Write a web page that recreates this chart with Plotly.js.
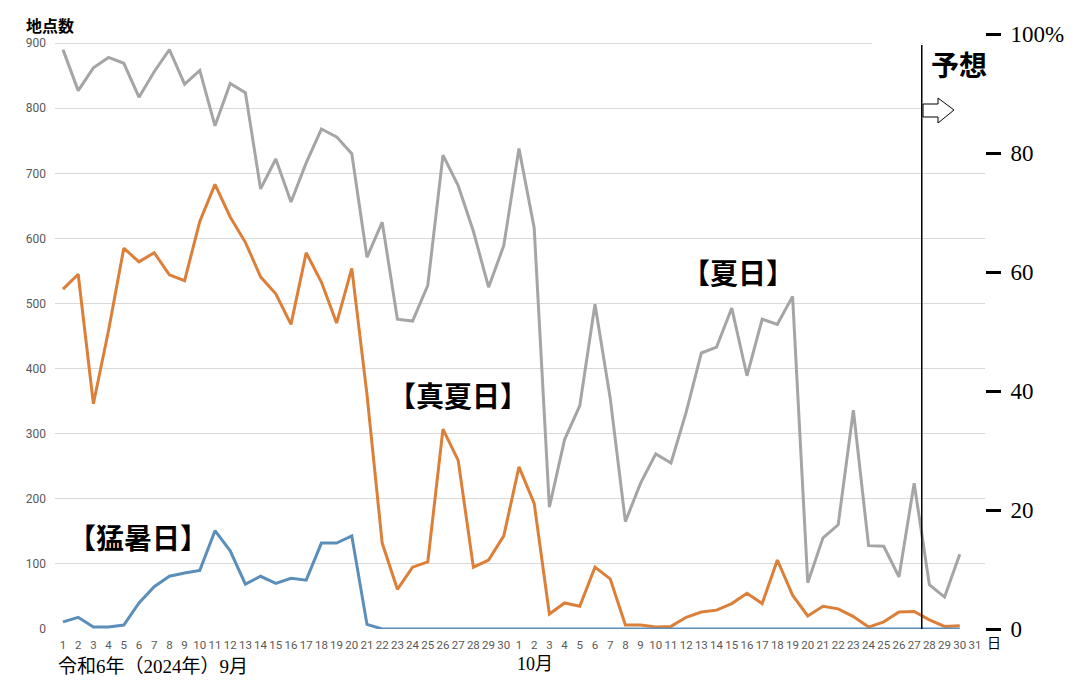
<!DOCTYPE html>
<html><head><meta charset="utf-8">
<script src="https://cdn.plot.ly/plotly-3.0.1.min.js"></script>
<style>body{margin:0;background:#fff}#chart{width:1086px;height:698px}</style>
</head><body><div id="chart"></div>
<script>
// Tick labels: September 1-30, October 1-31
const xLabels = ['1','2','3','4','5','6','7','8','9','10','11','12','13','14','15','16','17','18','19','20','21','22','23','24','25','26','27','28','29','30',
  '1','2','3','4','5','6','7','8','9','10','11','12','13','14','15','16','17','18','19','20','21','22','23','24','25','26','27','28','29','30','31'];

// 夏日 (>=25°C) station counts, Sep 1 - Oct 30
const natsubi = [890,827,862,878,869,817,856,890,837,858,773,838,824,676,722,656,716,768,756,730,571,625,476,473,528,728,681,611,525,589,
  738,616,187,291,343,499,355,165,224,269,255,333,424,433,493,389,476,468,511,71,140,160,336,128,127,80,224,68,49,115];
// 真夏日 (>=30°C)
const manatsubi = [522,545,346,459,585,564,578,544,535,626,683,633,594,541,515,468,578,533,470,554,360,132,61,95,103,307,259,95,106,143,
  249,193,23,40,35,95,77,6,6,3,4,18,26,29,39,55,39,106,52,20,35,31,19,3,11,26,27,14,4,5];
// 猛暑日 (>=35°C)
const moushobi = [11,18,3,3,6,40,65,81,86,90,151,120,69,81,70,78,75,132,132,143,7,0,0,0,0,0,0,0,0,0,
  0,0,0,0,0,0,0,0,0,0,0,0,0,0,0,0,0,0,0,0,0,0,0,0,0,0,0,0,0,0];

const leftTicks = [0,100,200,300,400,500,600,700,800,900];
const rightTicks = [0,20,40,60,80,100];
const rightTickText = ['0','20','40','60','80','100%'];

const xPos = xLabels.map((_, i) => i);
const seriesX = natsubi.map((_, i) => xPos[i]);

// pixel -> paper helpers (plot area 55..985 x 34..629)
const L = 55, R = 985, T = 34, B = 629;
const px = x => (x - L) / (R - L);
const py = y => (B - y) / (B - T);

const traces = [
  {x: seriesX, y: natsubi, mode: 'lines', line: {color: '#a5a5a5', width: 3}, hoverinfo: 'skip', showlegend: false},
  {x: seriesX, y: manatsubi, mode: 'lines', line: {color: '#dc7f38', width: 3}, hoverinfo: 'skip', showlegend: false},
  {x: seriesX, y: moushobi, mode: 'lines', line: {color: '#5b8fba', width: 3}, hoverinfo: 'skip', showlegend: false},
  {x: [0], y: [0], yaxis: 'y2', mode: 'none', hoverinfo: 'skip', showlegend: false}
];

const boldCJK = {family: 'Noto Sans CJK JP', size: 28, color: '#000', weight: 700};
const serif = 'Liberation Serif, Noto Sans CJK JP';

const layout = {
  width: 1086, height: 698,
  margin: {l: L, r: 1086 - R, t: T, b: 698 - B},
  paper_bgcolor: '#fff', plot_bgcolor: '#fff',
  showlegend: false,
  xaxis: {
    range: [-0.526, 60.66], tickmode: 'array', tickvals: xPos, ticktext: xLabels,
    tickangle: 0, showgrid: false, zeroline: false, showline: false, ticks: '',
    tickfont: {family: 'Roboto, Open Sans, sans-serif', size: 11.5, color: '#595959'},
    ticklabelstandoff: 7
  },
  yaxis: {
    range: [0, 914], tickmode: 'array', tickvals: leftTicks,
    showgrid: true, gridcolor: '#d9d9d9', gridwidth: 1, zeroline: false, showline: false, ticks: '',
    tickfont: {family: 'Roboto, Open Sans, sans-serif', size: 12, color: '#595959'},
    ticklabelstandoff: 8
  },
  yaxis2: {
    overlaying: 'y', side: 'right', range: [0, 100], tickmode: 'array',
    tickvals: rightTicks, ticktext: rightTickText,
    showgrid: false, zeroline: false, showline: false,
    ticks: 'outside', ticklen: 15, tickwidth: 3, tickcolor: '#000',
    tickfont: {family: serif, size: 23, color: '#000'},
    ticklabelstandoff: 5
  },
  shapes: [
    {type: 'rect', xref: 'paper', yref: 'paper', x0: px(872), x1: px(921), y0: py(48), y1: py(38), fillcolor: '#fff', line: {width: 0}, layer: 'above'},
    {type: 'rect', xref: 'paper', yref: 'paper', x0: px(923), x1: px(986), y0: py(125), y1: py(38), fillcolor: '#fff', line: {width: 0}, layer: 'above'},
    {type: 'line', xref: 'x', yref: 'paper', x0: 56.5, x1: 56.5, y0: 0, y1: py(45), line: {color: '#000', width: 1.5}, layer: 'above'},
    {type: 'path', xref: 'paper', yref: 'paper', layer: 'above',
      path: `M ${px(923)} ${py(104)} L ${px(938)} ${py(104)} L ${px(938)} ${py(98)} L ${px(954)} ${py(110)} L ${px(938)} ${py(123)} L ${px(938)} ${py(117)} L ${px(923)} ${py(117)} Z`,
      fillcolor: '#fff', line: {color: '#000', width: 1}}
  ],
  annotations: [
    {text: '地点数', xref: 'paper', yref: 'paper', x: px(24), y: py(25), xanchor: 'left', yanchor: 'middle', showarrow: false,
      font: {family: 'Noto Sans CJK JP', size: 16, color: '#000', weight: 700}},
    {text: '【猛暑日】', xref: 'paper', yref: 'paper', x: px(66), y: py(537), xanchor: 'left', yanchor: 'middle', showarrow: false, font: boldCJK},
    {text: '【真夏日】', xref: 'paper', yref: 'paper', x: px(386), y: py(395), xanchor: 'left', yanchor: 'middle', showarrow: false, font: boldCJK},
    {text: '【夏日】', xref: 'paper', yref: 'paper', x: px(680), y: py(272), xanchor: 'left', yanchor: 'middle', showarrow: false, font: boldCJK},
    {text: '予想', xref: 'paper', yref: 'paper', x: px(929), y: py(64), xanchor: 'left', yanchor: 'middle', showarrow: false,
      font: {family: 'Noto Sans CJK JP', size: 28, color: '#000', weight: 700}},
    {text: '令和6年（2024年）9月', xref: 'paper', yref: 'paper', x: px(56), y: py(666), xanchor: 'left', yanchor: 'middle', showarrow: false,
      font: {family: serif, size: 19, color: '#000'}},
    {text: '10月', xref: 'paper', yref: 'paper', x: px(535), y: py(664), xanchor: 'center', yanchor: 'middle', showarrow: false,
      font: {family: serif, size: 18, color: '#000'}},
    {text: '日', xref: 'paper', yref: 'paper', x: px(985), y: py(642), xanchor: 'left', yanchor: 'middle', showarrow: false,
      font: {family: 'Noto Sans CJK JP', size: 14, color: '#000'}}
  ]
};

Plotly.newPlot('chart', traces, layout, {staticPlot: true, displayModeBar: false});
</script>
</body></html>
